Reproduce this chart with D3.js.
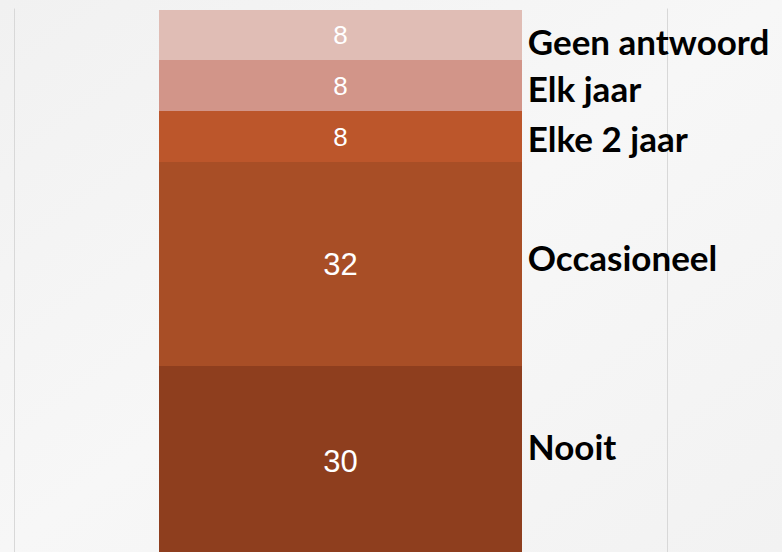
<!DOCTYPE html>
<html>
<head>
<meta charset="utf-8">
<script src="https://cdn.jsdelivr.net/npm/d3@7"></script>
<style>
  html, body { margin: 0; padding: 0; background: #f4f4f4; }
  svg { display: block; }
</style>
</head>
<body>
<script>
// stacked from bottom to top
const categories = ["Nooit", "Occasioneel", "Elke 2 jaar", "Elk jaar", "Geen antwoord"];
const values = [30, 32, 8, 8, 8];
const colors = ["#8e3e1e", "#a84e26", "#bc562b", "#d29589", "#e0bdb5"];

// small vertical nudges for the category labels (px)
const labelNudge = [-16, -7, 1.5, 2.5, 6];

const width = 782, height = 552;

const svg = d3.select("body").append("svg")
    .attr("width", width)
    .attr("height", height);

// soft background
const defs = svg.append("defs");
const grad = defs.append("linearGradient")
    .attr("id", "bg")
    .attr("x1", 0).attr("y1", 0).attr("x2", 1).attr("y2", 1);
grad.append("stop").attr("offset", "0%").attr("stop-color", "#f1f1f1");
grad.append("stop").attr("offset", "50%").attr("stop-color", "#f7f7f7");
grad.append("stop").attr("offset", "100%").attr("stop-color", "#f2f2f2");

svg.append("rect")
    .attr("width", width)
    .attr("height", height)
    .attr("fill", "url(#bg)");

let acc = 0;
const stack = values.map((v, i) => {
  const d = { name: categories[i], value: v, y0: acc, y1: acc + v, color: colors[i], nudge: labelNudge[i] };
  acc += v;
  return d;
});

const total = d3.sum(values);

const y = d3.scaleLinear()
    .domain([0, total])
    .range([557.5, 9.5]);

const x = d3.scaleBand()
    .domain(["all"])
    .range([14, 667])
    .paddingInner(0.286)
    .paddingOuter(0.286);

// plot edges (value gridlines)
svg.append("g")
    .selectAll("line")
    .data(x.range())
    .join("line")
      .attr("x1", d => d + 0.5)
      .attr("x2", d => d + 0.5)
      .attr("y1", y(total) - 1)
      .attr("y2", height)
      .attr("stroke", "#d8d8d8")
      .attr("stroke-width", 1);

svg.append("g")
    .attr("shape-rendering", "crispEdges")
    .selectAll("rect")
    .data(stack)
    .join("rect")
      .attr("x", x("all"))
      .attr("width", x.bandwidth())
      .attr("y", d => Math.round(y(d.y1)))
      .attr("height", d => Math.round(y(d.y0)) - Math.round(y(d.y1)))
      .attr("fill", d => d.color);

// value labels
svg.append("g")
    .attr("text-anchor", "middle")
    .style("font-family", "Arial, 'Liberation Sans', sans-serif")
    .style("fill", "#fff")
  .selectAll("text")
  .data(stack)
  .join("text")
    .attr("x", x("all") + x.bandwidth() / 2)
    .attr("y", d => y((d.y0 + d.y1) / 2))
    .attr("dominant-baseline", "central")
    .style("font-size", d => (y(d.y0) - y(d.y1) > 100 ? 31 : 26) + "px")
    .text(d => d.value);

// category labels
svg.append("g")
    .style("font-family", "Lato, 'Open Sans', sans-serif")
    .style("font-weight", "bold")
    .style("font-size", "35px")
    .style("fill", "#000")
  .selectAll("text")
  .data(stack)
  .join("text")
    .attr("x", x("all") + x.bandwidth() + 6)
    .attr("y", d => y((d.y0 + d.y1) / 2) + d.nudge)
    .attr("dominant-baseline", "central")
    .text(d => d.name);
</script>
</body>
</html>
